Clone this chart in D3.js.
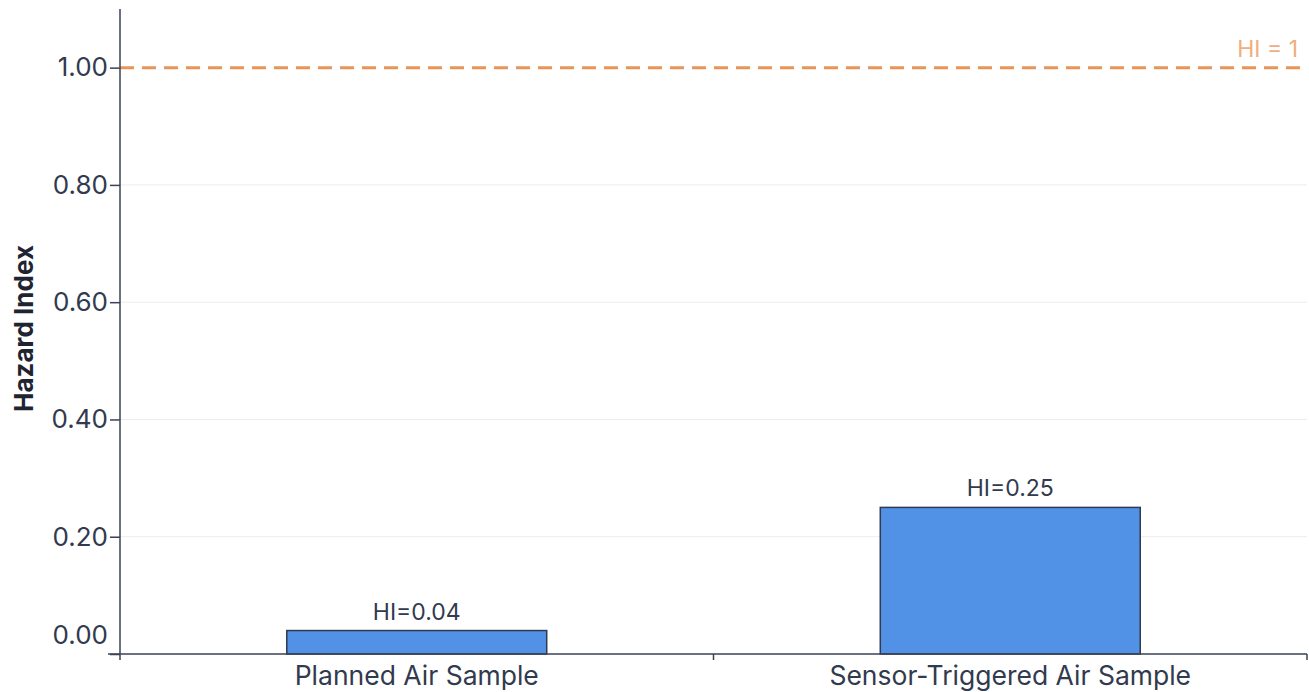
<!DOCTYPE html>
<html><head><meta charset="utf-8">
<script src="https://cdn.jsdelivr.net/npm/d3@7"></script>
<style>body{margin:0;background:#fff;font-family:Inter,"Noto Sans",sans-serif}</style>
</head><body><svg id="c" width="1309" height="692"></svg>
<script>
const categories = ["Planned Air Sample", "Sensor-Triggered Air Sample"];
const hiValues = [0.04, 0.25];
const barLabels = ["HI=0.04", "HI=0.25"];
const yTicks = [0, 0.2, 0.4, 0.6, 0.8, 1.0];
const threshold = 1;
const thresholdLabel = "HI = 1";

const svg = d3.select("#c");
const m = {left: 120, right: 2, top: 9, bottom: 38};
const W = 1309, H = 692;
const x = d3.scaleBand().domain(categories).range([m.left, W - m.right]).paddingInner(0).paddingOuter(0);
const y = d3.scaleLinear().domain([0, 1.1]).range([H - m.bottom, m.top]);
const txt = "#313a4e";

// grid
svg.append("g").selectAll("line").data(yTicks.filter(d => d > 0 && d < 1)).join("line")
  .attr("x1", m.left).attr("x2", W - m.right)
  .attr("y1", d => y(d)).attr("y2", d => y(d))
  .attr("stroke", "#ececec").attr("stroke-width", 1);

// bars
const bw = x.bandwidth() * 0.438;
svg.append("g").selectAll("rect").data(categories).join("rect")
  .attr("x", d => x(d) + x.bandwidth() / 2 - bw / 2)
  .attr("width", bw)
  .attr("y", (d, i) => y(hiValues[i]))
  .attr("height", (d, i) => y(0) - y(hiValues[i]))
  .attr("fill", "#5191e6").attr("stroke", "#2f3a4f").attr("stroke-width", 1.5);

svg.append("g").selectAll("text").data(categories).join("text")
  .attr("x", d => x(d) + x.bandwidth() / 2)
  .attr("y", (d, i) => y(hiValues[i]) - 11)
  .attr("text-anchor", "middle").attr("font-size", 23).attr("fill", txt)
  .text((d, i) => barLabels[i]);

// threshold
svg.append("line").attr("x1", m.left).attr("x2", W - m.right)
  .attr("y1", y(threshold)).attr("y2", y(threshold))
  .attr("stroke", "#e8955a").attr("stroke-width", 3).attr("stroke-dasharray", "14,8");
svg.append("text").attr("x", W - 11).attr("y", y(threshold) - 11)
  .attr("text-anchor", "end").attr("font-size", 23).attr("fill", "#f2ad7c")
  .text(thresholdLabel);

// axes
const ya = svg.append("g").attr("transform", `translate(${m.left},0)`)
  .call(d3.axisLeft(y).tickValues(yTicks).tickFormat(d3.format(".2f")).tickSizeOuter(0).tickSize(10).tickPadding(2));
const xa = svg.append("g").attr("transform", `translate(0,${y(0)})`)
  .call(d3.axisBottom(x).tickSize(0).tickPadding(0));
// x-axis boundary ticks
const xb = [m.left, m.left + x.bandwidth(), W - m.right];
svg.append("g").selectAll("line").data(xb).join("line")
  .attr("x1", d => d).attr("x2", d => d).attr("y1", y(0)).attr("y2", y(0) + 6)
  .attr("stroke", "#3a4256").attr("stroke-width", 1.5);

[ya, xa].forEach(a => {
  a.select(".domain").attr("stroke", "#3a4256").attr("stroke-width", 1.5);
  a.selectAll(".tick line").attr("stroke", "#3a4256").attr("stroke-width", 1.5);
  a.selectAll("text").attr("font-size", 26).attr("fill", txt).attr("font-family", "Inter,sans-serif");
});
ya.select(".domain").attr("d", `M0,${y(0)}V${m.top}`);
// the zero label sits slightly above the axis line
ya.selectAll(".tick").filter(d => d === 0).select("text").attr("y", -19);
xa.select(".domain").attr("d", `M${m.left - 12},0H${W - m.right}`);
xa.selectAll("text").attr("font-size", 26.5).attr("dy", null).attr("y", 31);

svg.append("text").attr("transform", `translate(33,${(y(0) + m.top) / 2 - 3}) rotate(-90)`)
  .attr("text-anchor", "middle").attr("font-size", 26).attr("font-weight", "bold").attr("fill", "#1f2433")
  .text("Hazard Index");
</script></body></html>
